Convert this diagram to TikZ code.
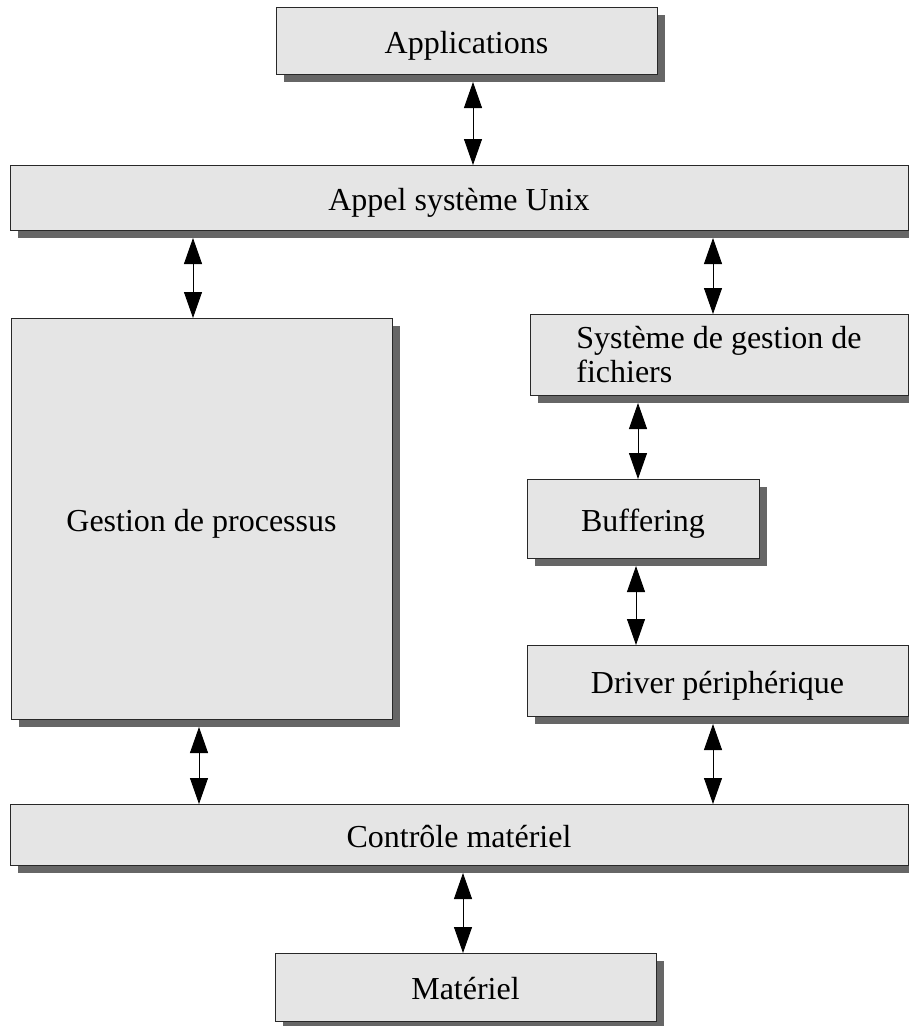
\documentclass[tikz,border=0pt]{standalone}
\usepackage{fontspec}
\setmainfont{Liberation Serif}
\usetikzlibrary{shadows,arrows.meta}
\definecolor{boxfill}{RGB}{229,229,229}
\definecolor{shadowc}{RGB}{102,102,102}
\definecolor{edgec}{RGB}{40,40,40}
\tikzset{
  layerbox/.style={draw=edgec, line width=1pt, fill=boxfill, anchor=north west,
    inner sep=0pt, outer sep=0pt, font=\fontsize{32}{34}\selectfont,
    drop shadow={shadow xshift=8pt, shadow yshift=-8pt, fill=shadowc, opacity=1}},
  oneline/.style={text height=25pt, text depth=0pt},
  biarrow/.style={draw=black, line width=0.9pt,
    {Triangle[width=18pt,length=26pt]}-{Triangle[width=18pt,length=26pt]}}
}
\begin{document}
\begin{tikzpicture}[x=1pt,y=-1pt]
\useasboundingbox (0,0) rectangle (909,1026);
\node[layerbox, oneline, minimum width=381pt, minimum height=67pt] (app) at (276,7) {Applications};
\node[layerbox, oneline, minimum width=898pt, minimum height=65pt] (appel) at (10,165) {Appel système Unix};
\node[layerbox, oneline, minimum width=381pt, minimum height=401pt] (gest) at (11,318) {Gestion de processus};
\node[layerbox, minimum width=378pt, minimum height=81pt, align=left] (sgf) at (530,314) {Système de gestion de\\fichiers};
\node[layerbox, oneline, minimum width=232pt, minimum height=79pt] (buf) at (527,479) {Buffering};
\node[layerbox, oneline, minimum width=381pt, minimum height=71pt] (drv) at (527,645) {Driver périphérique};
\node[layerbox, oneline, minimum width=898pt, minimum height=61pt] (ctrl) at (10,804) {Contrôle matériel};
\node[layerbox, oneline, minimum width=381pt, minimum height=68pt] (mat) at (275,953) {Matériel};

\draw[biarrow] ([xshift=6.5pt,yshift=-8pt]app.south) coordinate (a1) -- (a1 |- appel.north);
\draw[biarrow] ([xshift=-266pt,yshift=-8pt]appel.south) coordinate (a2) -- (a2 |- gest.north);
\draw[biarrow] ([xshift=254pt,yshift=-8pt]appel.south) coordinate (a3) -- (a3 |- sgf.north);
\draw[biarrow] ([xshift=-81pt,yshift=-8pt]sgf.south) coordinate (a4) -- (a4 |- buf.north);
\draw[biarrow] ([xshift=-7pt,yshift=-8pt]buf.south) coordinate (a5) -- (a5 |- drv.north);
\draw[biarrow] ([xshift=-2.5pt,yshift=-8pt]gest.south) coordinate (a6) -- (a6 |- ctrl.north);
\draw[biarrow] ([xshift=-4.5pt,yshift=-8pt]drv.south) coordinate (a7) -- (a7 |- ctrl.north);
\draw[biarrow] ([xshift=4pt,yshift=-8pt]ctrl.south) coordinate (a8) -- (a8 |- mat.north);
\end{tikzpicture}
\end{document}
